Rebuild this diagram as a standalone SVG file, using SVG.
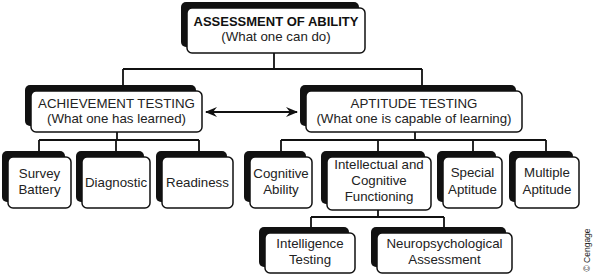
<svg xmlns="http://www.w3.org/2000/svg" width="595" height="277" viewBox="0 0 595 277">
<style>
.sh{fill:#111;}
.bx{fill:#fff;stroke:#111;stroke-width:1.5;}
text{font-family:"Liberation Sans",Arial,sans-serif;fill:#222;text-anchor:middle;font-size:13.3px;}
.t{font-weight:bold;font-size:13px;fill:#111;}
.c{stroke:#111;stroke-width:1.8;fill:none;}
</style>
<defs>
<marker id="ah" viewBox="0 0 12 10" refX="11" refY="5" markerWidth="12" markerHeight="10" markerUnits="userSpaceOnUse" orient="auto-start-reverse">
<path d="M0,0 L12,5 L0,10 L4,5 z" fill="#111"/>
</marker>
</defs>
<g id="connectors">
<path class="c" d="M274,53 V69 M123,69 H422 M123,69 V85 M422,69 V85"/>
<path class="c" d="M117,132 V140 M39,140 H199 M39,140 V151 M116,140 V151 M199,140 V151"/>
<path class="c" d="M415,132 V140 M281,140 H546 M281,140 V151 M378,140 V151 M473,140 V151 M546,140 V151"/>
<path class="c" d="M378,210 V217 M311,217 H444 M311,217 V227 M444,217 V227"/>
<line class="c" x1="206" y1="112" x2="297" y2="112" marker-start="url(#ah)" marker-end="url(#ah)"/>
</g>
<g id="assessment">
<rect class="sh" x="181" y="2" width="178" height="45" rx="5"/>
<rect class="bx" x="187" y="8" width="178" height="45" rx="5"/>
<text class="t" x="276" y="26">ASSESSMENT OF ABILITY</text>
<text x="276" y="41">(What one can do)</text>
</g>
<g id="achievement">
<rect class="sh" x="25" y="85" width="171" height="41" rx="5"/>
<rect class="bx" x="31" y="91" width="171" height="41" rx="5"/>
<text x="116.5" y="108">ACHIEVEMENT TESTING</text>
<text x="116.5" y="123">(What one has learned)</text>
</g>
<g id="aptitude">
<rect class="sh" x="300" y="85" width="216" height="41" rx="5"/>
<rect class="bx" x="306" y="91" width="216" height="41" rx="5"/>
<text x="414" y="108">APTITUDE TESTING</text>
<text x="414" y="123">(What one is capable of learning)</text>
</g>
<g id="survey">
<rect class="sh" x="2" y="151" width="63" height="51" rx="5"/>
<rect class="bx" x="8" y="157" width="63" height="51" rx="5"/>
<text x="39.5" y="178">Survey</text>
<text x="39.5" y="194">Battery</text>
</g>
<g id="diagnostic">
<rect class="sh" x="76" y="151" width="68" height="51" rx="5"/>
<rect class="bx" x="82" y="157" width="68" height="51" rx="5"/>
<text x="116" y="187">Diagnostic</text>
</g>
<g id="readiness">
<rect class="sh" x="156" y="151" width="71" height="51" rx="5"/>
<rect class="bx" x="162" y="157" width="71" height="51" rx="5"/>
<text x="197.5" y="187">Readiness</text>
</g>
<g id="cognitive">
<rect class="sh" x="244" y="151" width="62" height="51" rx="5"/>
<rect class="bx" x="250" y="157" width="62" height="51" rx="5"/>
<text x="281" y="178">Cognitive</text>
<text x="281" y="194">Ability</text>
</g>
<g id="intellectual">
<rect class="sh" x="321" y="151" width="104" height="53" rx="5"/>
<rect class="bx" x="327" y="157" width="104" height="53" rx="5"/>
<text x="379" y="169">Intellectual and</text>
<text x="379" y="185">Cognitive</text>
<text x="379" y="201">Functioning</text>
</g>
<g id="special">
<rect class="sh" x="437" y="151" width="59" height="51" rx="5"/>
<rect class="bx" x="443" y="157" width="59" height="51" rx="5"/>
<text x="472.5" y="177">Special</text>
<text x="472.5" y="194">Aptitude</text>
</g>
<g id="multiple">
<rect class="sh" x="509" y="151" width="64" height="51" rx="5"/>
<rect class="bx" x="515" y="157" width="64" height="51" rx="5"/>
<text x="547" y="177">Multiple</text>
<text x="547" y="194">Aptitude</text>
</g>
<g id="intelligence">
<rect class="sh" x="259" y="227" width="90" height="40" rx="5"/>
<rect class="bx" x="265" y="233" width="90" height="40" rx="5"/>
<text x="310" y="248">Intelligence</text>
<text x="310" y="264">Testing</text>
</g>
<g id="neuropsych">
<rect class="sh" x="371" y="227" width="135" height="40" rx="5"/>
<rect class="bx" x="377" y="233" width="135" height="40" rx="5"/>
<text x="444.5" y="248">Neuropsychological</text>
<text x="444.5" y="264">Assessment</text>
</g>
<text transform="translate(590,250) rotate(-90)" style="font-size:8.5px">© Cengage</text>
</svg>
